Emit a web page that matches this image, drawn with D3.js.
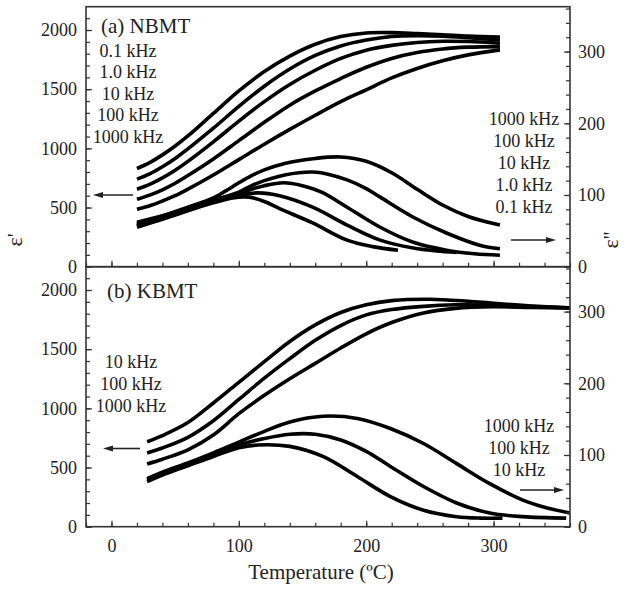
<!DOCTYPE html>
<html>
<head>
<meta charset="utf-8">
<script src="https://cdn.jsdelivr.net/npm/d3@7"></script>
<style>
  body { margin: 0; background: #fff; }
  svg text { font-family: "Liberation Serif", "Times New Roman", serif; fill: #222; }
</style>
</head>
<body>
<svg id="chart" width="629" height="589"></svg>
<script>
// ---- NBMT: real permittivity ε' vs temperature (°C), one array per frequency
const nbmtReal_01k   = [[20,830],[30,880],[40,945],[50,1020],[60,1105],[80,1295],[100,1485],[120,1650],[140,1780],[160,1880],[180,1945],[200,1975],[220,1978],[240,1970],[260,1960],[280,1948],[305,1940]];
const nbmtReal_1k    = [[20,740],[30,785],[40,845],[50,915],[60,995],[80,1170],[100,1355],[120,1525],[140,1670],[160,1785],[180,1865],[200,1915],[220,1945],[240,1952],[260,1948],[280,1935],[305,1915]];
const nbmtReal_10k   = [[20,655],[30,695],[40,750],[50,815],[60,890],[80,1055],[100,1230],[120,1395],[140,1540],[160,1660],[180,1760],[200,1830],[220,1870],[240,1895],[260,1905],[280,1903],[305,1888]];
const nbmtReal_100k  = [[20,570],[30,605],[40,650],[50,705],[60,770],[80,910],[100,1065],[120,1220],[140,1365],[160,1485],[180,1590],[200,1685],[220,1760],[240,1810],[260,1840],[280,1855],[305,1860]];
const nbmtReal_1000k = [[20,486],[30,515],[40,555],[50,600],[60,655],[80,775],[100,905],[120,1035],[140,1160],[160,1280],[180,1395],[200,1495],[220,1595],[240,1675],[260,1740],[280,1790],[305,1832]];

// ---- NBMT: imaginary permittivity ε'' vs temperature (°C)
const nbmtImag_1000k = [[20,62],[40,71],[60,83],[80,96],[89,105],[100,117],[110,127],[120,135],[136,144],[160,151],[180,153],[200,147],[220,131],[240,108],[260,86],[280,70],[305,58]];
const nbmtImag_100k  = [[20,60],[40,70],[60,82],[80,93],[100,104],[110,113],[120,120],[136,128],[158,132],[170,129],[185,121],[200,109],[211,97],[237,69],[263,47],[289,30],[305,25]];
const nbmtImag_10k   = [[20,58],[40,69],[60,81],[80,92],[100,101],[110,108],[120,113],[135,117],[150,113],[165,104],[185,83],[211,55],[237,34],[263,23],[285,18],[305,16]];
const nbmtImag_1k    = [[20,57],[40,68],[60,80],[80,91],[100,99],[115,103],[132,99],[158,83],[185,58],[211,37],[237,26],[255,22],[271,20]];
const nbmtImag_01k   = [[20,55],[40,66],[60,78],[80,89],[95,96],[108,97],[120,91],[132,81],[158,61],[185,37],[205,28],[225,23]];

// ---- KBMT: real permittivity ε'
const kbmtReal_10k   = [[28,718],[40,770],[60,880],[80,1045],[100,1220],[120,1395],[140,1565],[160,1705],[180,1810],[200,1875],[220,1910],[250,1922],[280,1905],[300,1888],[330,1865],[360,1848]];
const kbmtReal_100k  = [[28,623],[40,665],[60,755],[80,895],[100,1075],[120,1255],[140,1420],[160,1575],[180,1700],[200,1790],[220,1835],[245,1862],[270,1875],[300,1872],[330,1860],[360,1850]];
const kbmtReal_1000k = [[28,530],[40,570],[60,650],[80,775],[100,955],[120,1110],[140,1250],[160,1380],[180,1510],[200,1630],[220,1725],[245,1806],[270,1845],[300,1858],[330,1852],[360,1848]];

// ---- KBMT: imaginary permittivity ε''
const kbmtImag_1000k = [[28,67],[40,76],[60,89],[80,103],[100,118],[120,133],[140,146],[166,154],[193,151],[219,137],[245,116],[271,88],[297,60],[323,37],[340,27],[360,19]];
const kbmtImag_100k  = [[28,65],[40,74],[60,87],[80,101],[100,114],[120,123],[140,129],[160,129],[180,121],[200,105],[219,84],[245,56],[271,33],[297,19],[323,14],[357,12]];
const kbmtImag_10k   = [[28,63],[40,72],[60,85],[80,98],[100,110],[115,114],[140,112],[166,98],[193,70],[219,42],[245,23],[271,14],[290,12],[307,12]];

// ---- axis ticks and labels
const tempTicks  = [0, 100, 200, 300];
const realTicks  = [0, 500, 1000, 1500, 2000];
const imagTicks  = [0, 100, 200, 300];
const nbmtFreqs  = ["0.1 kHz", "1.0 kHz", "10 kHz", "100 kHz", "1000 kHz"];
const kbmtFreqs  = ["10 kHz", "100 kHz", "1000 kHz"];

const svg = d3.select("#chart");
const x = d3.scaleLinear().domain([-20, 360]).range([86, 570]);
const realMax = 2197, imagMax = 362.6;
const fmt = d3.format("d");

const panels = [
  { id: "a", top: 6.7, bottom: 266.7, title: "(a) NBMT", titleX: 101, titleY: 33,
    real: [nbmtReal_01k, nbmtReal_1k, nbmtReal_10k, nbmtReal_100k, nbmtReal_1000k],
    imag: [nbmtImag_1000k, nbmtImag_100k, nbmtImag_10k, nbmtImag_1k, nbmtImag_01k],
    leftLabels: nbmtFreqs, leftX: 128, leftY0: 56.5, leftDy: 21.6,
    rightLabels: nbmtFreqs.slice().reverse(), rightX: 524, rightY0: 125, rightDy: 22.1,
    leftArrow: [133, 93, 195], rightArrow: [511, 556, 240], xLabels: false },
  { id: "b", top: 266.7, bottom: 526.7, title: "(b) KBMT", titleX: 107, titleY: 298,
    real: [kbmtReal_10k, kbmtReal_100k, kbmtReal_1000k],
    imag: [kbmtImag_1000k, kbmtImag_100k, kbmtImag_10k],
    leftLabels: kbmtFreqs, leftX: 131, leftY0: 368, leftDy: 22,
    rightLabels: kbmtFreqs.slice().reverse(), rightX: 519, rightY0: 431.5, rightDy: 22.2,
    leftArrow: [140, 103, 448.5], rightArrow: [520, 564, 490], xLabels: true }
];

const defs = svg.append("defs");

function styleAxis(a) {
  a.select(".domain").remove();
  a.selectAll("line").attr("stroke", "#333").attr("stroke-width", 1.2);
  a.selectAll("text").style("font-size", "18px").style("font-family", "Liberation Serif").attr("fill", "#222");
}

panels.forEach(p => {
  const yL = d3.scaleLinear().domain([0, realMax]).range([p.bottom, p.top]);
  const yR = d3.scaleLinear().domain([0, imagMax]).range([p.bottom, p.top]);
  const g = svg.append("g").attr("class", "panel-" + p.id);

  defs.append("clipPath").attr("id", "clip-" + p.id)
    .append("rect").attr("x", x(-20)).attr("y", p.top)
    .attr("width", x(360) - x(-20)).attr("height", p.bottom - p.top);

  // curves
  const plot = g.append("g").attr("clip-path", `url(#clip-${p.id})`);
  const smooth = d3.curveCatmullRom.alpha(0.5);
  const lineReal = d3.line().x(d => x(d[0])).y(d => yL(d[1])).curve(smooth);
  const lineImag = d3.line().x(d => x(d[0])).y(d => yR(d[1])).curve(smooth);
  p.real.forEach(s => plot.append("path").attr("d", lineReal(s))
    .attr("fill", "none").attr("stroke", "#000").attr("stroke-width", 3.6));
  p.imag.forEach(s => plot.append("path").attr("d", lineImag(s))
    .attr("fill", "none").attr("stroke", "#000").attr("stroke-width", 3.6));

  // left axis (ε')
  styleAxis(g.append("g").attr("transform", `translate(${x(-20)},0)`)
    .call(d3.axisLeft(yL).tickValues(d3.range(0, 2200, 100)).tickSize(-4).tickFormat("")));
  styleAxis(g.append("g").attr("transform", `translate(${x(-20)},0)`)
    .call(d3.axisLeft(yL).tickValues(realTicks).tickSizeInner(-6).tickSizeOuter(0).tickPadding(9).tickFormat(fmt)));

  // right axis (ε'')
  styleAxis(g.append("g").attr("transform", `translate(${x(360)},0)`)
    .call(d3.axisRight(yR).tickValues(d3.range(0, 361, 20)).tickSize(-4).tickFormat("")));
  styleAxis(g.append("g").attr("transform", `translate(${x(360)},0)`)
    .call(d3.axisRight(yR).tickValues(imagTicks).tickSizeInner(-6).tickSizeOuter(0).tickPadding(8).tickFormat(fmt)));

  // bottom axis (temperature)
  styleAxis(g.append("g").attr("transform", `translate(0,${p.bottom})`)
    .call(d3.axisBottom(x).tickValues(d3.range(-20, 361, 20)).tickSize(-4).tickFormat("")));
  styleAxis(g.append("g").attr("transform", `translate(0,${p.bottom})`)
    .call(d3.axisBottom(x).tickValues(tempTicks).tickSizeInner(-6).tickSizeOuter(0).tickPadding(13)
      .tickFormat(p.xLabels ? fmt : "")));

  // frame
  g.append("rect").attr("x", x(-20)).attr("y", p.top)
    .attr("width", x(360) - x(-20)).attr("height", p.bottom - p.top)
    .attr("fill", "none").attr("stroke", "#333").attr("stroke-width", 1.6);

  // panel title
  g.append("text").attr("x", p.titleX).attr("y", p.titleY)
    .style("font-size", "21px").text(p.title);

  // frequency labels
  g.selectAll(".fl").data(p.leftLabels).enter().append("text")
    .attr("x", p.leftX).attr("y", (d, i) => p.leftY0 + i * p.leftDy)
    .attr("text-anchor", "middle").style("font-size", "18px").text(d => d);
  g.selectAll(".fr").data(p.rightLabels).enter().append("text")
    .attr("x", p.rightX).attr("y", (d, i) => p.rightY0 + i * p.rightDy)
    .attr("text-anchor", "middle").style("font-size", "18px").text(d => d);

  // arrows: [from x, to x, y]
  [p.leftArrow, p.rightArrow].forEach(([x0, x1, yy]) => {
    const dir = Math.sign(x1 - x0);
    g.append("line").attr("x1", x0).attr("x2", x1 - dir * 6).attr("y1", yy).attr("y2", yy)
      .attr("stroke", "#222").attr("stroke-width", 1.6);
    g.append("path")
      .attr("d", `M${x1},${yy} L${x1 - dir * 10},${yy - 3} L${x1 - dir * 10},${yy + 3} Z`)
      .attr("fill", "#222");
  });
});

// axis titles
svg.append("text").attr("transform", "translate(22,240) rotate(-90)")
  .attr("text-anchor", "middle").style("font-size", "22px").text("ε'");
svg.append("text").attr("transform", "translate(618,240) rotate(-90)")
  .attr("text-anchor", "middle").style("font-size", "22px").text("ε''");
svg.append("text").attr("x", 321).attr("y", 579)
  .attr("text-anchor", "middle").style("font-size", "21px").text("Temperature (ºC)");
</script>
</body>
</html>
